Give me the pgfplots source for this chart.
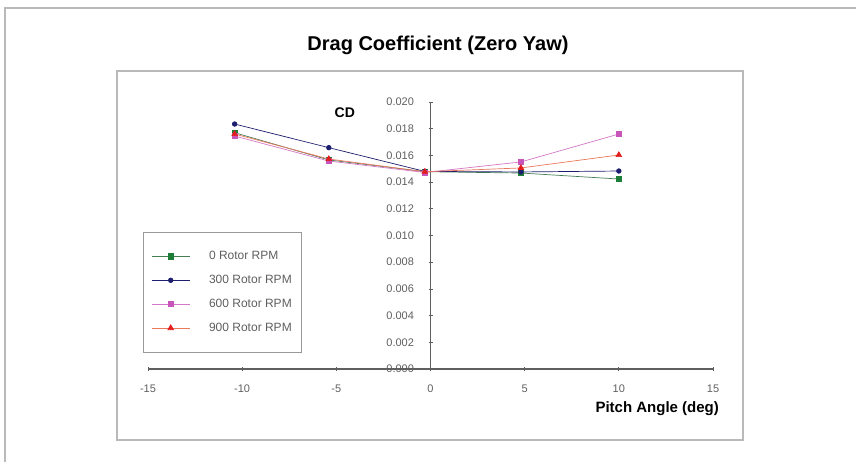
\documentclass[border=0pt]{standalone}
\usepackage{fontspec}
\setmainfont{Liberation Sans}
\usepackage{pgfplots}
\pgfplotsset{compat=1.18}

\definecolor{cgreen}{RGB}{30,125,55}
\definecolor{cnavy}{RGB}{30,30,110}
\definecolor{cpink}{RGB}{200,85,185}
\definecolor{cred}{RGB}{225,30,30}
\definecolor{cline}{RGB}{235,120,90}
\definecolor{ctick}{RGB}{95,95,95}

\begin{document}
\begin{tikzpicture}
\path[use as bounding box] (0pt,0pt) rectangle (856pt,-462pt);
% outer frame and plot area frame
\draw[gray!55, line width=2pt] (5pt,-462pt) -- (5pt,-8pt) -- (856pt,-8pt);
\draw[gray!55, line width=1.3pt] (117pt,-71pt) rectangle (743pt,-440pt);
\node[font=\bfseries\fontsize{20}{22}\selectfont] at (438pt,-45pt) {Drag Coefficient (Zero Yaw)};

\begin{axis}[
  at={(148pt,-369pt)}, anchor=south west,
  scale only axis, width=565pt, height=267pt,
  xmin=-15, xmax=15, ymin=0, ymax=0.02,
  axis lines*=middle,
  hide obscured x ticks=false, hide obscured y ticks=false,
  axis line style={ctick, line width=1.1pt},
  xtick={-15,-10,-5,0,5,10,15},
  ytick={0,0.002,0.004,0.006,0.008,0.010,0.012,0.014,0.016,0.018,0.020},
  scaled y ticks=false,
  tick align=center, major tick length=4pt,
  tick style={ctick, line width=0.8pt},
  /pgf/number format/assume math mode=true,
  yticklabel style={/pgf/number format/fixed, /pgf/number format/fixed zerofill, /pgf/number format/precision=3, xshift=-11pt},
  ticklabel style={font=\fontsize{11}{13}\selectfont, text=ctick},
  xticklabel style={yshift=-10pt},
  xlabel={Pitch Angle (deg)}, ylabel={CD},
  xlabel style={at={(axis cs:15.5,-0.0030)}, anchor=east, font=\bfseries\fontsize{15}{17}\selectfont},
  ylabel style={at={(axis cs:-4.55,0.0192)}, anchor=center, rotate=-90, font=\bfseries\fontsize{14}{16}\selectfont},
  legend style={at={(axis cs:-15.27,0.01026)}, anchor=north west, draw=gray!80, line width=0.9pt,
    inner xsep=8pt, inner ysep=17pt, row sep=10pt, font=\fontsize{12}{14}\selectfont, text=ctick,
    /tikz/every odd column/.append style={column sep=17pt}},
  legend cell align=left,
  legend image code/.code={\draw[mark repeat=2, mark phase=2] plot coordinates {(0pt,0pt) (19pt,0pt) (38pt,0pt)};},
]

\addplot[color=cgreen!60!gray, line width=0.7pt, mark=square*, mark size=2.6pt, mark options={cgreen}] coordinates {
  (-10.4,0.01770) (-5.4,0.01566) (-0.3,0.01478) (4.8,0.01468) (10,0.01423)
};
\addlegendentry{0 Rotor RPM}

\addplot[color=cnavy, line width=0.7pt, mark=*, mark size=2.3pt] coordinates {
  (-10.4,0.01835) (-5.4,0.01658) (-0.3,0.01480) (4.8,0.01476) (10,0.01483)
};
\addlegendentry{300 Rotor RPM}

\addplot[color=cpink!80, line width=0.7pt, mark=square*, mark size=2.6pt, mark options={cpink}] coordinates {
  (-10.4,0.01745) (-5.4,0.01558) (-0.3,0.01472) (4.8,0.01551) (10,0.01760)
};
\addlegendentry{600 Rotor RPM}

\addplot[color=cline, line width=0.7pt, mark=triangle*, mark size=3.2pt, mark options={cred}] coordinates {
  (-10.4,0.01760) (-5.4,0.01573) (-0.3,0.01478) (4.8,0.01506) (10,0.01603)
};
\addlegendentry{900 Rotor RPM}

\end{axis}
\end{tikzpicture}
\end{document}
